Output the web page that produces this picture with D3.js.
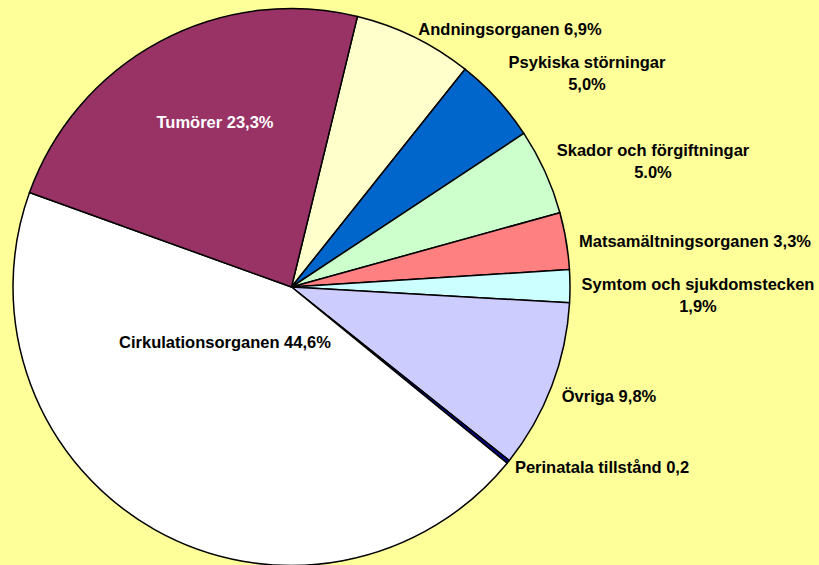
<!DOCTYPE html>
<html>
<head>
<meta charset="utf-8">
<script src="https://cdn.jsdelivr.net/npm/d3@7"></script>
<style>
  body { margin: 0; background: #FFFF99; }
  svg { display: block; }
  text { font-family: "Liberation Sans", Arial, sans-serif; font-weight: bold; font-size: 16.5px; }
</style>
</head>
<body>
<svg id="chart" width="819" height="565"></svg>
<script>
// slices in drawing order, clockwise from the top
let categories = ["Andningsorganen", "Psykiska störningar", "Skador och förgiftningar",
    "Matsamältningsorganen", "Symtom och sjukdomstecken", "Övriga",
    "Perinatala tillstånd", "Cirkulationsorganen", "Tumörer"];
let values = [6.9, 5.0, 5.0, 3.3, 1.9, 9.8, 0.2, 44.6, 23.3];
let labels = [
    ["Andningsorganen 6,9%"],
    ["Psykiska störningar", "5,0%"],
    ["Skador och förgiftningar", "5.0%"],
    ["Matsamältningsorganen 3,3%"],
    ["Symtom och sjukdomstecken", "1,9%"],
    ["Övriga 9,8%"],
    ["Perinatala tillstånd 0,2"],
    ["Cirkulationsorganen 44,6%"],
    ["Tumörer 23,3%"]
];
let colors = ["#FFFFCC", "#0066CC", "#CCFFCC", "#FF8080", "#CCFFFF",
    "#CCCCFF", "#000080", "#FFFFFF", "#993366"];

// label anchors (center x, baseline of first line)
let labelPos = [[510, 35], [587, 68], [653, 156], [695, 247], [698, 290],
    [609, 402], [602, 473], [225, 348], [215, 128]];

let cx = 291.5, cy = 287, radius = 278.5;
let start = 13.7 * Math.PI / 180;

let svg = d3.select("#chart");
let g = svg.append("g").attr("transform", "translate(" + cx + "," + cy + ")");

let pie = d3.pie()
    .sort(null)
    .startAngle(start)
    .endAngle(start + 2 * Math.PI);

let arc = d3.arc().innerRadius(0).outerRadius(radius);

g.selectAll("path")
    .data(pie(values))
    .enter().append("path")
    .attr("d", arc)
    .attr("fill", (d, i) => colors[i])
    .attr("stroke", "#000")
    .attr("stroke-width", 1.5)
    .attr("stroke-linejoin", "round");

let lbl = svg.selectAll("text.lbl")
    .data(labels)
    .enter().append("text")
    .attr("class", "lbl")
    .attr("text-anchor", "middle")
    .attr("fill", (d, i) => categories[i] == "Tumörer" ? "#FFFFFF" : "#000000")
    .attr("x", (d, i) => labelPos[i][0])
    .attr("y", (d, i) => labelPos[i][1]);

lbl.selectAll("tspan")
    .data((d, i) => d.map(s => ({ s: s, x: labelPos[i][0] })))
    .enter().append("tspan")
    .attr("x", d => d.x)
    .attr("dy", (d, j) => j == 0 ? 0 : 21.5)
    .text(d => d.s);
</script>
</body>
</html>
